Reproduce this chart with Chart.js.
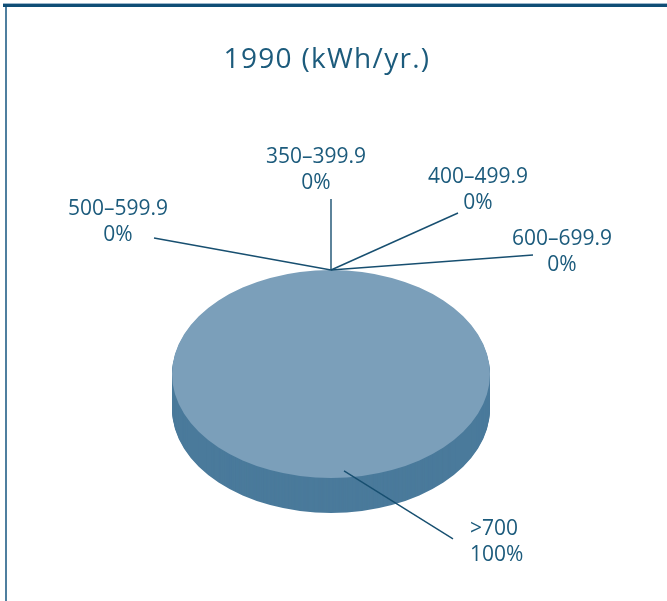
<!DOCTYPE html>
<html>
<head>
<meta charset="utf-8">
<script src="https://cdn.jsdelivr.net/npm/chart.js@4"></script>
<style>
  html, body { margin: 0; padding: 0; background: #fff; }
  #wrap { position: relative; width: 667px; height: 601px; overflow: hidden; }
  #chart { position: absolute; left: 0; top: 0; }
  .rule { position: absolute; }
</style>
</head>
<body>
<div id="wrap">
  <canvas id="chart" width="667" height="601"></canvas>
  <div class="rule" style="left:3px;top:3px;width:664px;height:1px;background:#9bb7cc"></div>
  <div class="rule" style="left:3px;top:4px;width:664px;height:3px;background:#0f4e76"></div>
  <div class="rule" style="left:5px;top:7px;width:2px;height:594px;background:#4f7f9f"></div>
</div>
<script>
var chartTitle = '1990 (kWh/yr.)';
var categories = ['350–399.9', '400–499.9', '500–599.9', '600–699.9', '>700'];
var shares = [0, 0, 0, 0, 100];

// where each callout goes, relative to the point it comes from on the pie
var callouts = [
    { from: [0, 0],   to: [0, -71],    text: [-15, -113], align: 'center' },
    { from: [0, 0],   to: [127, -57],  text: [147, -93],  align: 'center' },
    { from: [0, 0],   to: [-177, -32], text: [-213, -61], align: 'center' },
    { from: [0, 0],   to: [202, -15],  text: [231, -31],  align: 'center' },
    { from: [13, -2], to: [122, 66],   text: [139, 56],   align: 'left' }
];

var textColor = '#1c5b7c';
var lineColor = '#174f70';
var topColor = '#7b9fba';
var sideColor = '#4a7a9b';
var tilt = 104 / 159;   // vertical squash of the pie
var depth = 35;

function sectorPath(ctx, arc, dy) {
    ctx.beginPath();
    ctx.moveTo(arc.x, arc.y + dy);
    ctx.arc(arc.x, arc.y + dy, arc.outerRadius, arc.startAngle, arc.endAngle);
    ctx.closePath();
}

var pie3d = {
    id: 'pie3d',
    beforeDatasetsDraw: function(chart) {
        var ctx = chart.ctx;
        var arcs = chart.getDatasetMeta(0).data;
        ctx.save();
        // squash around the pie centre
        var c = arcs[0];
        ctx.translate(c.x, c.y);
        ctx.scale(1, tilt);
        ctx.translate(-c.x, -c.y);
        // side of the disc
        ctx.fillStyle = sideColor;
        arcs.forEach(function(arc) {
            if (arc.endAngle - arc.startAngle <= 0) return;
            for (var d = depth; d > 0; d--) {
                sectorPath(ctx, arc, d / tilt);
                ctx.fill();
            }
        });
    },
    afterDatasetsDraw: function(chart) {
        chart.ctx.restore();
    },
    afterDraw: function(chart) {
        var ctx = chart.ctx;
        var arcs = chart.getDatasetMeta(0).data;
        ctx.save();
        ctx.font = '21px "Open Sans"';
        ctx.textBaseline = 'middle';
        arcs.forEach(function(arc, i) {
            var span = arc.endAngle - arc.startAngle;
            var a = span > 0 ? (arc.startAngle + arc.endAngle) / 2 : arc.startAngle;
            var f = span > 0 ? 0.95 : 1;
            var ax = arc.x + Math.cos(a) * arc.outerRadius * f;
            var ay = arc.y + Math.sin(a) * arc.outerRadius * f * tilt;
            var c = callouts[i];
            ctx.strokeStyle = lineColor;
            ctx.lineWidth = 1.4;
            ctx.beginPath();
            ctx.moveTo(ax + c.from[0], ay + c.from[1]);
            ctx.lineTo(ax + c.to[0], ay + c.to[1]);
            ctx.stroke();
            ctx.fillStyle = textColor;
            ctx.textAlign = c.align;
            var tx = ax + c.text[0], ty = ay + c.text[1];
            ctx.fillText(categories[i], tx, ty);
            ctx.fillText(shares[i] + '%', tx, ty + 26);
        });
        // title
        ctx.font = '28px "Open Sans"';
        ctx.letterSpacing = '1.3px';
        ctx.textAlign = 'center';
        ctx.fillText(chartTitle, 327, 60);
        ctx.restore();
    }
};

new Chart(document.getElementById('chart').getContext('2d'), {
    type: 'pie',
    data: {
        labels: categories,
        datasets: [{
            data: shares,
            backgroundColor: topColor,
            borderWidth: 0
        }]
    },
    options: {
        responsive: false,
        animation: false,
        events: [],
        layout: { padding: { left: 172, right: 177, top: 215, bottom: 68 } },
        plugins: {
            legend: { display: false },
            tooltip: { enabled: false },
            title: { display: false }
        }
    },
    plugins: [pie3d]
});
</script>
</body>
</html>
